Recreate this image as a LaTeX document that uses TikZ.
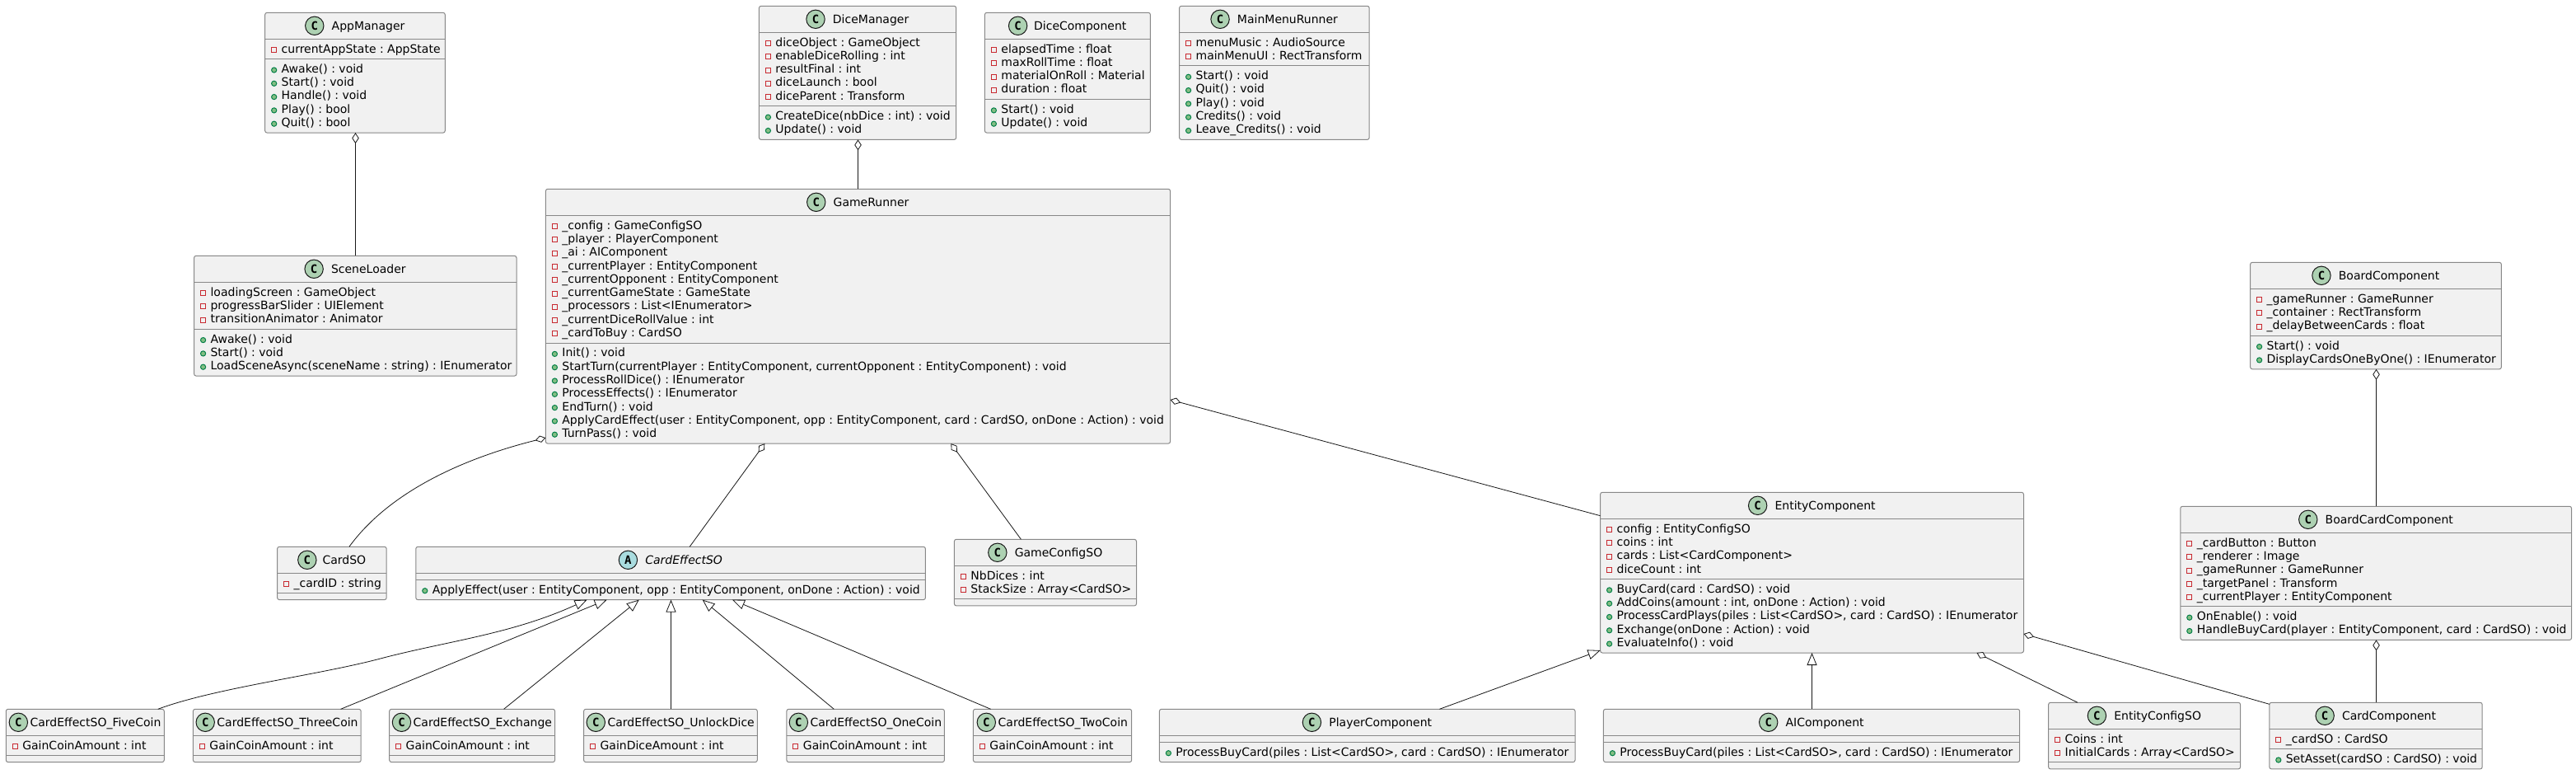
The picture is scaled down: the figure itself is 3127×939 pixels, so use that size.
\documentclass[tikz,border=0pt]{standalone}
\usepackage{fontspec}
\setmainfont{DejaVu Sans}
\newfontfamily\circfont{DejaVu Sans Mono}
\usetikzlibrary{arrows.meta}
\frenchspacing
\font\umlmeasure="DejaVu Sans" at 14pt
\font\umlmeasureit="DejaVu Sans Oblique" at 14pt
\definecolor{boxfill}{HTML}{F1F1F1}
\definecolor{boxline}{HTML}{888888}
\definecolor{wire}{HTML}{181818}
\definecolor{cgreen}{HTML}{ADD1B2}
\definecolor{acyan}{HTML}{A9DCDF}
\definecolor{privred}{HTML}{C82930}
\definecolor{pubgreen}{HTML}{84BE84}
\definecolor{publine}{HTML}{038048}
\tikzset{
  classbox/.style={draw=boxline,fill=boxfill,line width=1pt,rounded corners=2.5pt,inner sep=0pt,outer sep=0pt,anchor=north west},
  sepline/.style={draw=boxline,line width=1pt},
  memtext/.style={inner sep=0pt,outer sep=0pt,anchor=base west,font=\fontsize{14}{16}\selectfont},
  titletext/.style={inner sep=0pt,outer sep=0pt,anchor=base west,font=\fontsize{14}{16}\selectfont},
  lettertext/.style={inner sep=0pt,outer sep=0pt,anchor=center,font=\circfont\bfseries\fontsize{14}{16}\selectfont},
  privicon/.style={draw=privred,line width=1pt},
  pubicon/.style={draw=publine,fill=pubgreen,line width=1pt},
  aggr/.style={draw=wire,line width=0.8pt,{Diamond[length=13pt,width=8.5pt,fill=white,line width=0.8pt]}-},
  inh/.style={draw=wire,line width=0.8pt,{Triangle[length=15pt,width=12pt,fill=white,line width=0.8pt]}-},
}
\def\umlletter{C}\def\umlcirc{cgreen}\def\umltitle{}\def\umlmeasfont{\umlmeasure}
\newdimen\umltitlelen
% #1 name, #2 left, #3 top, #4 right, #5 title, #6 number of attributes, #7 attributes, #8 number of methods, #9 methods
\newcommand{\umlclass}[9]{%
  \pgfmathsetmacro\umlW{#4-#2}%
  \pgfmathsetmacro\yH{#3+32}%
  \pgfmathsetmacro\yA{\yH+8+16.3*#6}%
  \pgfmathsetmacro\yB{\yA+8+16.3*#8}%
  \pgfmathsetmacro\umlH{\yB-#3}%
  \node[classbox,minimum width=\umlW pt,minimum height=\umlH pt] (#1) at (#2,#3) {};
  \draw[sepline] (#2,\yH) -- (#4,\yH);
  \draw[sepline] (#2,\yA) -- (#4,\yA);
  \setbox0=\hbox{\umlmeasfont #5}%
  \umltitlelen=\wd0
  \pgfmathsetmacro\umlTW{\umltitlelen}%
  \pgfmathsetmacro\umlGap{min(9.7,3+0.095*max(0,\umlW-33-\umlTW))}%
  \pgfmathsetmacro\cxl{(#2+#4)/2-(22.4+\umlGap+\umlTW)/2}%
  \pgfmathsetmacro\cxc{\cxl+11.2}%
  \pgfmathsetmacro\txl{\cxl+22.4+\umlGap}%
  \pgfmathsetmacro\cyc{#3+16}%
  \pgfmathsetmacro\tyb{#3+21}%
  \draw[draw=wire,fill=\umlcirc,line width=1pt] (\cxc,\cyc) circle (11.2pt);
  \node[lettertext] (#1-letter) at (\cxc,\cyc) {\umlletter};
  \node[titletext] (#1-title) at (\txl,\tyb) {\umltitle #5};
  \pgfmathsetmacro\icx{#2+11}%
  \pgfmathsetmacro\txx{#2+20}%
  \ifnum#6>0
  \foreach \memb [count=\k] in {#7}{%
    \pgfmathsetmacro\yb{\yH+16.8+16.3*(\k-1)}%
    \pgfmathsetmacro\yc{\yb-3.6}%
    \draw[privicon] (\icx-3,\yc-3) rectangle (\icx+3,\yc+3);
    \node[memtext] at (\txx,\yb) {\memb};
  }%
  \fi
  \ifnum#8>0
  \foreach \memb [count=\k] in {#9}{%
    \pgfmathsetmacro\yb{\yA+16.8+16.3*(\k-1)}%
    \pgfmathsetmacro\yc{\yb-3.4}%
    \draw[pubicon] (\icx,\yc) circle (3.1pt);
    \node[memtext] at (\txx,\yb) {\memb};
  }%
  \fi
}
\begin{document}
\begin{tikzpicture}[x=1pt,y=-1pt]
\useasboundingbox[fill=white] (0,0) rectangle (3127,939);

\umlclass{am}{321.7}{15.3}{540.3}{AppManager}{1}{currentAppState : AppState}{5}{Awake() : void,Start() : void,Handle() : void,Play() : bool,Quit() : bool}
\umlclass{sl}{235.6}{310.3}{627}{SceneLoader}{3}{loadingScreen : GameObject,progressBarSlider : UIElement,transitionAnimator : Animator}{3}{Awake() : void,Start() : void,LoadSceneAsync(sceneName : string) : IEnumerator}
\umlclass{dm}{921.4}{7.3}{1160.7}{DiceManager}{5}{diceObject : GameObject,enableDiceRolling : int,resultFinal : int,diceLaunch : bool,diceParent : Transform}{2}{CreateDice(nbDice : int) : void,Update() : void}
\umlclass{dc}{1195.4}{15.3}{1396.4}{DiceComponent}{4}{elapsedTime : float,maxRollTime : float,materialOnRoll : Material,duration : float}{2}{Start() : void,Update() : void}
\umlclass{mm}{1431.6}{7.3}{1662.2}{MainMenuRunner}{2}{menuMusic : AudioSource,mainMenuUI : RectTransform}{5}{Start() : void,Quit() : void,Play() : void,Credits() : void,Leave\_Credits() : void}
\umlclass{gr}{662.4}{229.3}{1420.6}{GameRunner}{9}{\_config : GameConfigSO,\_player : PlayerComponent,\_ai : AIComponent,\_currentPlayer : EntityComponent,\_currentOpponent : EntityComponent,\_currentGameState : GameState,\_processors : List<IEnumerator>,\_currentDiceRollValue : int,\_cardToBuy : CardSO}{7}{Init() : void,{StartTurn(currentPlayer : EntityComponent, currentOpponent : EntityComponent) : void},ProcessRollDice() : IEnumerator,ProcessEffects() : IEnumerator,EndTurn() : void,{ApplyCardEffect(user : EntityComponent, opp : EntityComponent, card : CardSO, onDone : Action) : void},TurnPass() : void}
\umlclass{bc}{2731.6}{318.3}{3036.4}{BoardComponent}{3}{\_gameRunner : GameRunner,\_container : RectTransform,\_delayBetweenCards : float}{2}{Start() : void,DisplayCardsOneByOne() : IEnumerator}
\umlclass{bcc}{2646.8}{614.3}{3121.6}{BoardCardComponent}{5}{\_cardButton : Button,\_renderer : Image,\_gameRunner : GameRunner,\_targetPanel : Transform,\_currentPlayer : EntityComponent}{2}{OnEnable() : void,{HandleBuyCard(player : EntityComponent, card : CardSO) : void}}
\umlclass{ec}{1942.6}{597.3}{2456.5}{EntityComponent}{4}{config : EntityConfigSO,coins : int,cards : List<CardComponent>,diceCount : int}{5}{BuyCard(card : CardSO) : void,{AddCoins(amount : int, onDone : Action) : void},{ProcessCardPlays(piles : List<CardSO>, card : CardSO) : IEnumerator},Exchange(onDone : Action) : void,EvaluateInfo() : void}
\umlclass{cso}{336.6}{663.3}{469.2}{CardSO}{1}{\_cardID : string}{0}{}
{\def\umlletter{A}\def\umlcirc{acyan}\def\umltitle{\itshape}\def\umlmeasfont{\umlmeasureit}
\umlclass{ces}{504.8}{663.3}{1123.4}{CardEffectSO}{0}{}{1}{{ApplyEffect(user : EntityComponent, opp : EntityComponent, onDone : Action) : void}}}
\umlclass{gc}{1158.4}{654.3}{1379.5}{GameConfigSO}{2}{NbDices : int,StackSize : Array<CardSO>}{0}{}
\umlclass{five}{7.3}{860.3}{199.3}{CardEffectSO\_FiveCoin}{1}{GainCoinAmount : int}{0}{}
\umlclass{three}{234.4}{860.3}{438.2}{CardEffectSO\_ThreeCoin}{1}{GainCoinAmount : int}{0}{}
\umlclass{exch}{472.7}{860.3}{673.6}{CardEffectSO\_Exchange}{1}{GainCoinAmount : int}{0}{}
\umlclass{unl}{708.6}{860.3}{919.3}{CardEffectSO\_UnlockDice}{1}{GainDiceAmount : int}{0}{}
\umlclass{one}{954.9}{860.3}{1146.4}{CardEffectSO\_OneCoin}{1}{GainCoinAmount : int}{0}{}
\umlclass{two}{1181.4}{860.3}{1373.7}{CardEffectSO\_TwoCoin}{1}{GainCoinAmount : int}{0}{}
\umlclass{pc}{1407.4}{860.3}{1912}{PlayerComponent}{0}{}{1}{{ProcessBuyCard(piles : List<CardSO>, card : CardSO) : IEnumerator}}
\umlclass{ai}{1946.4}{860.3}{2451.7}{AIComponent}{0}{}{1}{{ProcessBuyCard(piles : List<CardSO>, card : CardSO) : IEnumerator}}
\umlclass{ecs}{2486.6}{852.3}{2719.6}{EntityConfigSO}{2}{Coins : int,InitialCards : Array<CardSO>}{0}{}
\umlclass{cc}{2754.8}{852.3}{3013.2}{CardComponent}{1}{\_cardSO : CardSO}{1}{SetAsset(cardSO : CardSO) : void}

% aggregations
\draw[aggr] ([xshift=109.8pt]am.south west) -- ([xshift=195.9pt]sl.north west);
\draw[aggr] ([xshift=120.1pt]dm.south west) -- ([xshift=379.1pt]gr.north west);
\draw[aggr] ([yshift=7pt]gr.south west) .. controls (555,558) and (470,600) .. ([xshift=87.3pt]cso.north west);
\draw[aggr] ([xshift=265.9pt]gr.south west) -- ([xshift=332.4pt]ces.north west);
\draw[aggr] ([xshift=491.9pt]gr.south west) -- ([xshift=81pt]gc.north west);
\draw[aggr] ([yshift=-255.7pt]gr.north east) -- ([yshift=-28.4pt]ec.north west);
\draw[aggr] ([xshift=152.9pt]bc.south west) -- ([xshift=237.7pt]bcc.north west);
\draw[aggr] ([xshift=237.7pt]bcc.south west) -- ([xshift=129.7pt]cc.north west);
\draw[aggr] ([xshift=456.9pt]ec.south west) -- ([xshift=35.4pt]ecs.north west);
\draw[aggr] ([yshift=23pt]ec.south east) -- ([yshift=-2pt]cc.north west);
% inheritance
\draw[inh] ([xshift=207.8pt]ces.south west) .. controls (620,770) and (540,778) .. (458,800) .. controls (380,820) and (260,835) .. ([xshift=184.4pt]five.north west);
\draw[inh] ([xshift=231.9pt]ces.south west) -- ([xshift=179.2pt]three.north west);
\draw[inh] ([xshift=271pt]ces.south west) -- ([xshift=138.9pt]exch.north west);
\draw[inh] ([xshift=309.7pt]ces.south west) -- ([xshift=105.9pt]unl.north west);
\draw[inh] ([xshift=347.9pt]ces.south west) -- ([xshift=57.4pt]one.north west);
\draw[inh] ([xshift=384.1pt]ces.south west) -- ([xshift=21.2pt]two.north west);
\draw[inh] ([yshift=3pt]ec.south west) -- ([xshift=340pt]pc.north west);
\draw[inh] ([xshift=256.9pt]ec.south west) -- ([xshift=253.1pt]ai.north west);
\end{tikzpicture}
\end{document}
